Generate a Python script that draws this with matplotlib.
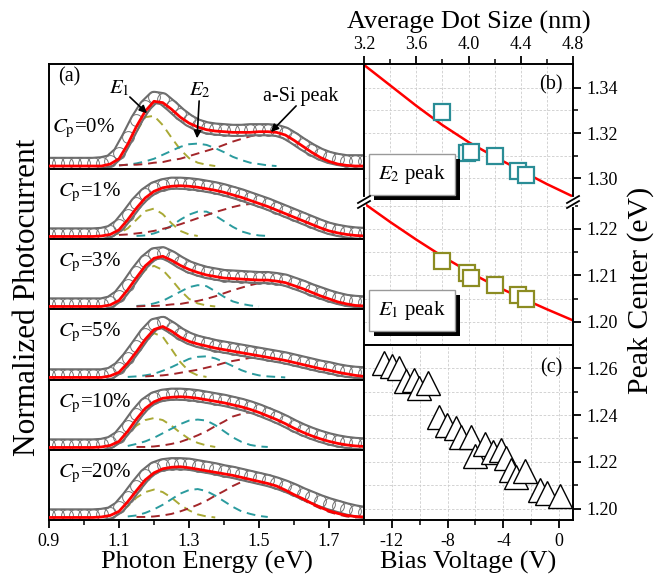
import numpy as np
import matplotlib.pyplot as plt
import matplotlib.patheffects as pe
from matplotlib.lines import Line2D

plt.rcParams['font.family'] = ['Liberation Serif', 'DejaVu Serif']
plt.rcParams['mathtext.fontset'] = 'stix'
plt.rcParams['axes.unicode_minus'] = False

nan = np.nan

# ---- (a) photocurrent spectra, sampled every 0.025 eV ----
energy = [0.900, 0.925, 0.950, 0.975, 1.000, 1.025, 1.050, 1.075, 1.100, 1.125,
          1.150, 1.175, 1.200, 1.225, 1.250, 1.275, 1.300, 1.325, 1.350, 1.375,
          1.400, 1.425, 1.450, 1.475, 1.500, 1.525, 1.550, 1.575, 1.600, 1.625,
          1.650, 1.675, 1.700, 1.725, 1.750, 1.775, 1.800]

cp_labels = ['0%', '1%', '3%', '5%', '10%', '20%']

data_0 = [0.04, 0.04, 0.04, 0.04, 0.04, 0.04, 0.05, 0.08, 0.20, 0.44,
          0.70, 0.91, 1.04, 1.02, 0.91, 0.79, 0.69, 0.62, 0.58, 0.56,
          0.55, 0.54, 0.54, 0.55, 0.55, 0.55, 0.54, 0.50, 0.42, 0.33,
          0.25, 0.18, 0.13, 0.10, 0.08, 0.08, 0.08]
fit_0 = [0, 0, 0, 0, 0, 0, 0, 0.03, 0.11, 0.33,
         0.60, 0.83, 0.98, 0.96, 0.86, 0.74, 0.65, 0.59, 0.55, 0.53,
         0.52, 0.51, 0.51, 0.51, 0.52, 0.52, 0.51, 0.47, 0.39, 0.30,
         0.21, 0.13, 0.07, 0.03, 0.01, 0, 0]
e1_0 = [nan, nan, nan, nan, nan, nan, nan, 0.02, 0.09, 0.28,
        0.52, 0.74, 0.76, 0.62, 0.43, 0.25, 0.12, 0.05, 0.02, 0.0,
        nan, nan, nan, nan, nan, nan, nan, nan, nan, nan,
        nan, nan, nan, nan, nan, nan, nan]
e2_0 = [nan, nan, nan, nan, nan, nan, nan, nan, 0.01, 0.02,
        0.04, 0.07, 0.11, 0.17, 0.23, 0.29, 0.33, 0.34, 0.32, 0.27,
        0.21, 0.14, 0.09, 0.05, 0.03, 0.01, 0.0, nan, nan, nan,
        nan, nan, nan, nan, nan, nan, nan]
asi_0 = [nan, nan, nan, nan, nan, nan, nan, nan, 0.01, 0.02,
         0.02, 0.03, 0.05, 0.06, 0.09, 0.11, 0.15, 0.19, 0.23, 0.27,
         0.32, 0.37, 0.41, 0.45, 0.48, 0.49, 0.50, 0.46, 0.38, 0.29,
         0.20, 0.12, 0.06, 0.02, 0.0, nan, nan]

data_1 = [0.05, 0.05, 0.05, 0.05, 0.05, 0.05, 0.06, 0.10, 0.22, 0.43,
          0.66, 0.84, 0.96, 1.02, 1.05, 1.05, 1.04, 1.02, 0.99, 0.96,
          0.92, 0.87, 0.82, 0.76, 0.70, 0.64, 0.57, 0.50, 0.43, 0.36,
          0.29, 0.22, 0.16, 0.12, 0.09, 0.07, 0.06]
fit_1 = [0, 0, 0, 0, 0, 0, 0.01, 0.04, 0.13, 0.33,
         0.56, 0.76, 0.89, 0.96, 0.99, 1.00, 0.99, 0.97, 0.94, 0.91,
         0.87, 0.82, 0.77, 0.71, 0.65, 0.59, 0.52, 0.45, 0.38, 0.31,
         0.24, 0.17, 0.11, 0.07, 0.04, 0.02, 0.01]
e1_1 = [nan, nan, nan, nan, nan, nan, nan, 0.02, 0.06, 0.16,
        0.33, 0.50, 0.55, 0.44, 0.26, 0.11, 0.04, 0.01, nan, nan,
        nan, nan, nan, nan, nan, nan, nan, nan, nan, nan,
        nan, nan, nan, nan, nan, nan, nan]
e2_1 = [nan, nan, nan, nan, nan, nan, nan, nan, nan, nan,
        0.01, 0.02, 0.06, 0.12, 0.21, 0.33, 0.43, 0.49, 0.49, 0.41,
        0.30, 0.19, 0.10, 0.05, 0.02, 0.01, nan, nan, nan, nan,
        nan, nan, nan, nan, nan, nan, nan]
asi_1 = [nan, nan, nan, nan, nan, nan, nan, nan, 0.03, 0.04,
         0.06, 0.08, 0.11, 0.15, 0.19, 0.24, 0.30, 0.36, 0.42, 0.48,
         0.53, 0.58, 0.62, 0.64, 0.63, 0.58, 0.51, 0.44, 0.37, 0.30,
         0.23, 0.16, 0.10, 0.06, 0.03, 0.01, 0.0]

data_3 = [0.05, 0.05, 0.05, 0.05, 0.05, 0.05, 0.05, 0.09, 0.21, 0.43,
          0.68, 0.90, 1.04, 1.06, 0.98, 0.87, 0.78, 0.72, 0.67, 0.64,
          0.61, 0.60, 0.59, 0.58, 0.57, 0.57, 0.55, 0.52, 0.46, 0.40,
          0.33, 0.27, 0.21, 0.16, 0.12, 0.10, 0.09]
fit_3 = [0, 0, 0, 0, 0, 0, 0, 0.03, 0.12, 0.33,
         0.57, 0.80, 0.95, 0.99, 0.91, 0.81, 0.73, 0.67, 0.62, 0.59,
         0.56, 0.55, 0.54, 0.53, 0.52, 0.52, 0.50, 0.47, 0.41, 0.35,
         0.28, 0.21, 0.15, 0.09, 0.05, 0.02, 0.01]
e1_3 = [nan, nan, nan, nan, nan, nan, nan, 0.02, 0.10, 0.30,
        0.52, 0.72, 0.80, 0.72, 0.53, 0.32, 0.15, 0.06, 0.02, 0.0,
        nan, nan, nan, nan, nan, nan, nan, nan, nan, nan,
        nan, nan, nan, nan, nan, nan, nan]
e2_3 = [nan, nan, nan, nan, nan, nan, nan, nan, nan, nan,
        0.01, 0.02, 0.06, 0.11, 0.20, 0.29, 0.38, 0.42, 0.40, 0.30,
        0.19, 0.10, 0.05, 0.02, 0.0, nan, nan, nan, nan, nan,
        nan, nan, nan, nan, nan, nan, nan]
asi_3 = [nan, nan, nan, nan, nan, nan, nan, nan, nan, nan,
         0.0, 0.01, 0.01, 0.02, 0.04, 0.05, 0.08, 0.11, 0.15, 0.20,
         0.26, 0.32, 0.37, 0.42, 0.46, 0.49, 0.49, 0.46, 0.40, 0.34,
         0.27, 0.20, 0.14, 0.08, 0.04, 0.01, 0.0]

data_5 = [0.05, 0.05, 0.05, 0.05, 0.05, 0.05, 0.05, 0.08, 0.19, 0.38,
          0.61, 0.85, 1.03, 1.07, 0.97, 0.85, 0.76, 0.70, 0.66, 0.62,
          0.59, 0.56, 0.53, 0.50, 0.47, 0.44, 0.41, 0.38, 0.34, 0.30,
          0.26, 0.22, 0.19, 0.15, 0.12, 0.10, 0.09]
fit_5 = [0, 0, 0, 0, 0, 0, 0, 0.03, 0.10, 0.28,
         0.50, 0.74, 0.93, 0.99, 0.90, 0.78, 0.70, 0.65, 0.61, 0.57,
         0.54, 0.51, 0.48, 0.45, 0.42, 0.39, 0.36, 0.33, 0.29, 0.25,
         0.21, 0.17, 0.14, 0.10, 0.07, 0.04, 0.02]
e1_5 = [nan, nan, nan, nan, nan, nan, nan, 0.02, 0.08, 0.21,
        0.45, 0.71, 0.86, 0.79, 0.55, 0.30, 0.12, 0.04, 0.01, nan,
        nan, nan, nan, nan, nan, nan, nan, nan, nan, nan,
        nan, nan, nan, nan, nan, nan, nan]
e2_5 = [nan, nan, nan, nan, nan, nan, nan, nan, nan, 0.01,
        0.02, 0.04, 0.07, 0.13, 0.20, 0.28, 0.36, 0.40, 0.41, 0.37,
        0.30, 0.22, 0.14, 0.08, 0.04, 0.02, 0.01, 0.0, nan, nan,
        nan, nan, nan, nan, nan, nan, nan]
asi_5 = [nan, nan, nan, nan, nan, nan, nan, nan, nan, nan,
         nan, 0.02, 0.03, 0.04, 0.06, 0.09, 0.12, 0.15, 0.19, 0.23,
         0.28, 0.32, 0.35, 0.38, 0.40, 0.38, 0.35, 0.32, 0.28, 0.24,
         0.20, 0.16, 0.13, 0.09, 0.06, 0.03, 0.01]

data_10 = [0.05, 0.05, 0.05, 0.05, 0.05, 0.05, 0.06, 0.10, 0.21, 0.42,
           0.66, 0.86, 0.98, 1.03, 1.05, 1.05, 1.04, 1.02, 0.99, 0.96,
           0.93, 0.89, 0.85, 0.80, 0.74, 0.67, 0.60, 0.52, 0.43, 0.35,
           0.28, 0.22, 0.17, 0.13, 0.10, 0.08, 0.07]
fit_10 = [0, 0, 0, 0, 0, 0, 0.01, 0.04, 0.12, 0.32,
          0.56, 0.77, 0.90, 0.97, 0.99, 1.00, 0.99, 0.97, 0.94, 0.91,
          0.88, 0.84, 0.80, 0.75, 0.69, 0.62, 0.55, 0.47, 0.38, 0.30,
          0.23, 0.17, 0.12, 0.08, 0.05, 0.03, 0.02]
e1_10 = [nan, nan, nan, nan, nan, nan, nan, 0.03, 0.10, 0.26,
         0.43, 0.54, 0.58, 0.54, 0.43, 0.29, 0.17, 0.09, 0.04, 0.01,
         nan, nan, nan, nan, nan, nan, nan, nan, nan, nan,
         nan, nan, nan, nan, nan, nan, nan]
e2_10 = [nan, nan, nan, nan, nan, nan, nan, nan, nan, 0.03,
         0.07, 0.12, 0.19, 0.28, 0.37, 0.46, 0.53, 0.55, 0.53, 0.44,
         0.32, 0.20, 0.11, 0.05, 0.02, 0.01, nan, nan, nan, nan,
         nan, nan, nan, nan, nan, nan, nan]
asi_10 = [nan, nan, nan, nan, nan, nan, nan, nan, nan, nan,
          0.01, 0.01, 0.02, 0.04, 0.07, 0.11, 0.17, 0.24, 0.32, 0.42,
          0.51, 0.61, 0.66, 0.70, 0.67, 0.60, 0.53, 0.45, 0.36, 0.28,
          0.21, 0.15, 0.10, 0.06, 0.03, 0.01, 0.0]

data_20 = [0.05, 0.05, 0.05, 0.05, 0.05, 0.05, 0.06, 0.09, 0.20, 0.40,
           0.63, 0.84, 0.98, 1.04, 1.06, 1.06, 1.05, 1.02, 0.99, 0.96,
           0.92, 0.89, 0.85, 0.81, 0.77, 0.73, 0.68, 0.62, 0.55, 0.47,
           0.40, 0.33, 0.27, 0.22, 0.17, 0.13, 0.10]
fit_20 = [0, 0, 0, 0, 0, 0, 0.01, 0.04, 0.12, 0.31,
          0.53, 0.74, 0.88, 0.96, 0.99, 1.00, 0.98, 0.95, 0.92, 0.89,
          0.86, 0.83, 0.79, 0.75, 0.71, 0.67, 0.62, 0.54, 0.45, 0.37,
          0.28, 0.20, 0.13, 0.08, 0.04, 0.02, 0.01]
e1_20 = [nan, nan, nan, nan, nan, nan, nan, 0.03, 0.10, 0.22,
         0.39, 0.50, 0.55, 0.50, 0.39, 0.25, 0.14, 0.06, 0.02, 0.0,
         nan, nan, nan, nan, nan, nan, nan, nan, nan, nan,
         nan, nan, nan, nan, nan, nan, nan]
e2_20 = [nan, nan, nan, nan, nan, nan, nan, nan, nan, 0.02,
         0.04, 0.09, 0.16, 0.25, 0.36, 0.47, 0.54, 0.56, 0.52, 0.43,
         0.32, 0.21, 0.12, 0.07, 0.03, 0.01, nan, nan, nan, nan,
         nan, nan, nan, nan, nan, nan, nan]
asi_20 = [nan, nan, nan, nan, nan, nan, nan, nan, nan, nan,
          0.01, 0.01, 0.02, 0.04, 0.07, 0.12, 0.18, 0.25, 0.33, 0.43,
          0.52, 0.62, 0.70, 0.73, 0.69, 0.65, 0.60, 0.52, 0.43, 0.35,
          0.26, 0.18, 0.11, 0.06, 0.02, 0.0, 0.0]

spectra = [
    (data_0, fit_0, e1_0, e2_0, asi_0),
    (data_1, fit_1, e1_1, e2_1, asi_1),
    (data_3, fit_3, e1_3, e2_3, asi_3),
    (data_5, fit_5, e1_5, e2_5, asi_5),
    (data_10, fit_10, e1_10, e2_10, asi_10),
    (data_20, fit_20, e1_20, e2_20, asi_20),
]

# ---- (b) peak centre vs average dot size ----
dot_size = [3.80, 3.99, 4.02, 4.20, 4.38, 4.44]
e2_peak = [1.3293, 1.3112, 1.3118, 1.3100, 1.3032, 1.3017]
e1_peak = [1.2131, 1.2105, 1.2095, 1.2080, 1.2058, 1.2049]
fit_size = [3.2, 3.4, 3.6, 3.8, 4.0, 4.2, 4.4, 4.6, 4.8]
e2_fit = [1.3500, 1.3410, 1.3320, 1.3235, 1.3160, 1.3095, 1.3035, 1.2975, 1.2920]
e1_fit = [1.2255, 1.2215, 1.2177, 1.2141, 1.2108, 1.2078, 1.2052, 1.2027, 1.2003]

# ---- (c) peak centre vs bias voltage ----
bias = [-12.56, -11.96, -11.48, -10.99, -10.40, -10.03, -9.44, -8.64, -8.07, -7.39,
        -7.03, -6.31, -6.00, -5.35, -4.75, -4.14, -3.78, -3.42, -3.06, -2.46,
        -1.38, -0.90, 0.06]
bias_peak = [1.2623, 1.2609, 1.2599, 1.2546, 1.2549, 1.2516, 1.2537, 1.2393, 1.2357, 1.2343,
             1.2308, 1.2308, 1.2226, 1.2277, 1.2244, 1.2251, 1.2216, 1.2166, 1.2137, 1.2163,
             1.2081, 1.2067, 1.2057]

# colours
olive = '#a9a935'
teal = '#2a9b9e'
darkred = '#a3262a'
sq_teal = '#2a8d96'
sq_olive = '#8c8c22'
dash = (0, (4.5, 3))

W, H = 665, 581
fig = plt.figure(figsize=(W / 100, H / 100), dpi=100)


def box(x0, y0, x1, y1):
    return [x0 / W, 1 - y1 / H, (x1 - x0) / W, (y1 - y0) / H]


def style_spines(ax):
    for s in ax.spines.values():
        s.set_linewidth(1.4)


# ---- panel (a) ----
edges = [64, 169, 239, 309, 380, 450, 520]
axes_a = []
for i, (dat, fit, e1, e2, asi) in enumerate(spectra):
    ax = fig.add_axes(box(49, edges[i], 364, edges[i + 1]))
    ax.plot(energy, e1, color=olive, ls=dash, lw=1.4, zorder=1)
    ax.plot(energy, e2, color=teal, ls=dash, lw=1.4, zorder=1)
    ax.plot(energy, asi, color=darkred, ls=dash, lw=1.4, zorder=1)
    # measured points: a tube of overlapping open circles
    ax.plot(energy, dat, color='white', lw=6.5, solid_joinstyle='round', zorder=2,
            path_effects=[pe.Stroke(linewidth=9.5, foreground='0.42'), pe.Normal()])
    ax.plot(energy, dat, 'o', ms=8.5, mfc='none', mec='0.45', mew=0.7, zorder=2.1)
    ax.plot(energy, fit, color='red', lw=2.0, zorder=3)
    ax.set_xlim(0.9, 1.8)
    if i == 0:
        ax.set_ylim(-0.045, 1.545)
        ax.text(0.01, 0.345, r'$C_\mathrm{p}$=' + cp_labels[i], transform=ax.transAxes,
                fontsize=15, va='baseline')
    else:
        ax.set_ylim(-0.05, 1.33)
        ax.text(0.03, 0.61, r'$C_\mathrm{p}$=' + cp_labels[i], transform=ax.transAxes,
                fontsize=15, va='baseline')
    ax.set_yticks([])
    style_spines(ax)
    if i < 5:
        ax.set_xticks([])
    else:
        ax.set_xticks([0.9, 1.1, 1.3, 1.5, 1.7])
        ax.set_xticks([1.0, 1.2, 1.4, 1.6, 1.8], minor=True)
        ax.tick_params(axis='x', which='major', direction='out', length=6, width=1.3,
                       labelsize=13, pad=3)
        ax.tick_params(axis='x', which='minor', direction='out', length=3.5, width=1.1)
        ax.set_xlabel('Photon Energy (eV)', fontsize=19, labelpad=1)
    axes_a.append(ax)

ax0 = axes_a[0]
ax0.text(0.925, 1.35, '(a)', fontsize=14.5, ha='left', va='center')
arrow = dict(arrowstyle='-|>', color='k', lw=1.2, mutation_scale=11, shrinkA=0, shrinkB=0)
ax0.text(1.10, 1.18, r'$E_1$', fontsize=15, ha='center', va='center')
ax0.annotate('', xy=(1.18, 0.80), xytext=(1.131, 1.045), arrowprops=arrow)
ax0.text(1.331, 1.14, r'$E_2$', fontsize=15, ha='center', va='center')
ax0.annotate('', xy=(1.323, 0.42), xytext=(1.329, 0.985), arrowprops=arrow)
ax0.text(1.62, 1.05, 'a-Si peak', fontsize=14.5, ha='center', va='center')
ax0.annotate('', xy=(1.534, 0.515), xytext=(1.606, 0.91), arrowprops=arrow)

fig.text(28 / W, 1 - 297 / H, 'Normalized Photocurrent', rotation=90, fontsize=22.5,
         ha='center', va='center')

# ---- panel (b) ----
axb1 = fig.add_axes(box(364, 64, 573, 202))
axb2 = fig.add_axes(box(364, 202, 573, 345))
grid_kw = dict(color='#cccccc', lw=0.6, ls=(0, (3, 2)))
for ax in (axb1, axb2):
    ax.set_xlim(3.2, 4.8)
    ax.set_xticks([3.2, 3.6, 4.0, 4.4, 4.8])
    ax.set_xticks([3.4, 3.8, 4.2, 4.6], minor=True)
    ax.grid(True, which='both', **grid_kw)
    ax.set_axisbelow(True)
    ax.yaxis.tick_right()
    style_spines(ax)
    ax.tick_params(axis='y', which='both', left=False, right=True, labelleft=False,
                   labelright=True, direction='out', labelsize=13, width=1.3)
    ax.tick_params(axis='y', which='major', length=6)
    ax.tick_params(axis='y', which='minor', length=3.5, width=1.1)

axb1.plot(fit_size, e2_fit, color='red', lw=1.8, zorder=2)
axb1.plot(dot_size, e2_peak, 's', ms=11, mfc='white', mec=sq_teal, mew=1.6, zorder=3)
axb1.set_ylim(1.2896, 1.3504)
axb1.set_yticks([1.30, 1.32, 1.34])
axb1.set_yticks([1.31, 1.33], minor=True)
axb1.spines['bottom'].set_visible(False)
axb1.xaxis.tick_top()
axb1.xaxis.set_label_position('top')
axb1.tick_params(axis='x', which='both', bottom=False, top=True, labelbottom=False,
                 labeltop=True, direction='out', labelsize=13, width=1.3)
axb1.tick_params(axis='x', which='major', length=6, pad=2)
axb1.tick_params(axis='x', which='minor', length=3.5, width=1.1)
axb1.set_xlabel('Average Dot Size (nm)', fontsize=19, labelpad=5)
axb1.text(0.95, 0.85, '(b)', transform=axb1.transAxes, fontsize=14.5, ha='right', va='center')

axb2.plot(fit_size, e1_fit, color='red', lw=1.8, zorder=2)
axb2.plot(dot_size, e1_peak, 's', ms=11, mfc='white', mec=sq_olive, mew=1.6, zorder=3)
axb2.set_ylim(1.195, 1.2258)
axb2.set_yticks([1.20, 1.21, 1.22])
axb2.set_yticks([1.205, 1.215, 1.225], minor=True)
axb2.spines['top'].set_visible(False)
axb2.tick_params(axis='x', which='both', bottom=False, top=False, labelbottom=False)

for ax, label, yfrac in ((axb1, r'$E_2$ peak', 0.20), (axb2, r'$E_1$ peak', 0.24)):
    t = ax.text(0.23, yfrac, label, transform=ax.transAxes, fontsize=15, ha='center',
                va='center', zorder=5,
                bbox=dict(boxstyle='square,pad=0.42', fc='white', ec='0.6', lw=1.0))
    t.get_bbox_patch().set_path_effects(
        [pe.withSimplePatchShadow(offset=(3.5, -3.5), shadow_rgbFace='k', alpha=1.0)])

# axis break marks
for xp in (364, 573):
    fig.add_artist(Line2D([xp / W, xp / W], [1 - 199 / H, 1 - 205 / H], color='white', lw=3))
    for yp in (199.5, 204.5):
        fig.add_artist(Line2D([(xp - 6) / W, (xp + 6) / W], [1 - (yp + 3.5) / H, 1 - (yp - 3.5) / H],
                              color='k', lw=1.3))

# ---- panel (c) ----
axc = fig.add_axes(box(364, 345, 573, 520))
axc.plot(bias, bias_peak, '^', ms=17, mfc='white', mec='black', mew=1.0, ls='none', zorder=3)
axc.set_xlim(-14, 1)
axc.set_ylim(1.1953, 1.2698)
axc.set_xticks([-12, -8, -4, 0])
axc.set_xticks([-10, -6, -2], minor=True)
axc.set_yticks([1.20, 1.22, 1.24, 1.26])
axc.set_yticks([1.21, 1.23, 1.25], minor=True)
axc.grid(True, which='both', **grid_kw)
axc.set_axisbelow(True)
axc.yaxis.tick_right()
style_spines(axc)
axc.tick_params(axis='both', which='both', direction='out', labelsize=13, width=1.3)
axc.tick_params(axis='y', which='both', left=False, right=True, labelleft=False, labelright=True)
axc.tick_params(which='major', length=6)
axc.tick_params(which='minor', length=3.5, width=1.1)
axc.tick_params(axis='x', pad=3)
axc.set_xlabel('Bias Voltage (V)', fontsize=19, labelpad=1)
axc.text(0.95, 0.87, '(c)', transform=axc.transAxes, fontsize=14.5, ha='right', va='center')

fig.text(641 / W, 1 - 290 / H, 'Peak Center (eV)', rotation=90, fontsize=21.5,
         ha='center', va='center')

fig.savefig('out.png', dpi=100)
